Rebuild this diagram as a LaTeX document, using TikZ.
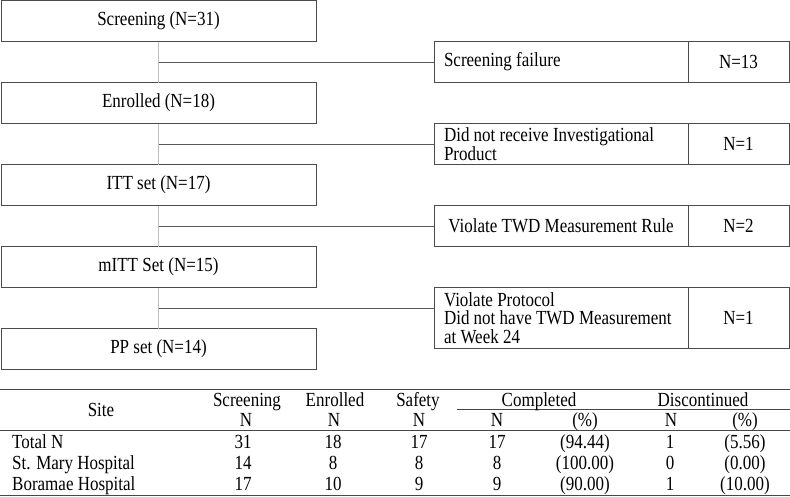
\documentclass[tikz,border=0pt]{standalone}
\usepackage{fontspec}
\setmainfont{Liberation Serif}[FakeStretch=0.85]
\usetikzlibrary{positioning,calc}
\definecolor{boxline}{RGB}{75,75,75}
\definecolor{trunkgray}{RGB}{190,190,190}
\definecolor{branchgray}{RGB}{90,90,90}
\definecolor{rulegray}{RGB}{70,70,70}
\tikzset{
  basebox/.style={rectangle,draw=boxline,line width=1pt,outer sep=0pt,fill=white,
    font=\fontsize{20}{18.5}\selectfont},
  flowbox/.style={basebox,minimum width=315pt,minimum height=41pt,align=center},
  reasonbox/.style={basebox,text width=240pt,inner xsep=7pt,inner ysep=1pt,minimum height=41pt,align=flush left},
  reasonmid/.style={basebox,minimum width=254pt,minimum height=41pt,align=center},
  countbox/.style={basebox,minimum width=101pt,minimum height=41pt,align=center},
  trunk/.style={draw=trunkgray,line width=1.6pt},
  branch/.style={draw=branchgray,line width=1pt},
  cell/.style={anchor=base,inner sep=0pt,font=\fontsize{20}{17.5}\selectfont},
  sitecell/.style={cell,anchor=base west},
  tabrule/.style={draw=rulegray,line width=1pt}
}

\begin{document}
\begin{tikzpicture}[x=1pt,y=-1pt,node distance=41pt]
  \useasboundingbox (0,0) rectangle (790,496);

  %% Flow of subjects
  \node[flowbox,anchor=north west] (screen) at (1,0.5) {Screening (N=31)};
  \node[flowbox,below=of screen] (enrol) {Enrolled (N=18)};
  \node[flowbox,below=of enrol] (itt) {ITT set (N=17)};
  \node[flowbox,below=of itt] (mitt) {mITT Set (N=15)};
  \node[flowbox,below=of mitt] (pp) {PP set (N=14)};

  \foreach \a/\b in {screen/enrol,enrol/itt,itt/mitt,mitt/pp}
    \draw[trunk] (\a) -- (\b);

  %% Reasons for exclusion
  \node[reasonbox,anchor=north west,xshift=118pt] (fail) at (screen.south east) {\hspace{3pt}Screening failure};
  \node[countbox,right=0pt of fail] (failn) {N=13};

  \node[reasonbox,anchor=north west,xshift=118pt] (noip) at (enrol.south east)
    {\hspace{3pt}Did not receive Investigational\\\hspace{3pt}Product};
  \node[countbox,right=0pt of noip] (noipn) {N=1};

  \node[reasonmid,anchor=north west,xshift=118pt] (twd) at (itt.south east)
    {Violate TWD Measurement Rule};
  \node[countbox,right=0pt of twd] (twdn) {N=2};

  \node[reasonbox,minimum height=61pt,anchor=north west,xshift=118pt] (prot) at (mitt.south east)
    {\hspace{3pt}Violate Protocol\\\hspace{3pt}Did not have TWD Measurement\\\hspace{3pt}at Week 24};
  \node[countbox,minimum height=61pt,right=0pt of prot] (protn) {N=1};

  %% Branch lines
  \coordinate (b1) at ($(screen.south)!0.5!(enrol.north)$);
  \coordinate (b2) at ($(enrol.south)!0.5!(itt.north)$);
  \coordinate (b3) at ($(itt.south)!0.5!(mitt.north)$);
  \coordinate (b4) at ($(mitt.south)!0.5!(pp.north)$);
  \draw[branch] (b1) -- (b1 -| fail.west);
  \draw[branch] (b2) -- (b2 -| noip.west);
  \draw[branch] (b3) -- (b3 -| twd.west);
  \draw[branch] (b4) -- (b4 -| prot.west);

  %% Disposition table
  \draw[tabrule] (0,389) -- (790,389);
  \draw[tabrule] (457,409) -- (790,409);
  \draw[tabrule] (0,430) -- (790,430);
  \draw[tabrule] (0,495) -- (790,495);

  \node[cell] (hsite) at (101,416.7) {Site};
  \node[cell] (hscr) at (247,406.7) {Screening};
  \node[cell] (hscrn) at (246,426.7) {N};
  \node[cell] (henr) at (335,406.7) {Enrolled};
  \node[cell] (henrn) at (334,426.7) {N};
  \node[cell] (hsaf) at (418,406.7) {Safety};
  \node[cell] (hsafn) at (419,426.7) {N};
  \node[cell] (hcom) at (539,406.7) {Completed};
  \node[cell] (hcomn) at (497,426.7) {N};
  \node[cell] (hcomp) at (585,426.7) {(\%)};
  \node[cell] (hdis) at (703,406.7) {Discontinued};
  \node[cell] (hdisn) at (671,426.7) {N};
  \node[cell] (hdisp) at (745,426.7) {(\%)};

  \foreach \row/\ypos/\site/\nscr/\nenr/\nsaf/\ncom/\pcom/\ndis/\pdis in {
      tot/448/Total N/31/18/17/17/94.44/1/5.56,
      stm/469/St. Mary Hospital/14/8/8/8/100.00/0/0.00,
      bor/490/Boramae Hospital/17/10/9/9/90.00/1/10.00}{
    \node[sitecell] (\row-site) at (12,\ypos) {\site};
    \node[cell] (\row-scr) at (243,\ypos) {\nscr};
    \node[cell] (\row-enr) at (333,\ypos) {\nenr};
    \node[cell] (\row-saf) at (419,\ypos) {\nsaf};
    \node[cell] (\row-cn) at (497,\ypos) {\ncom};
    \node[cell] (\row-cp) at (585,\ypos) {(\pcom)};
    \node[cell] (\row-dn) at (670,\ypos) {\ndis};
    \node[cell] (\row-dp) at (745,\ypos) {(\pdis)};
  }
\end{tikzpicture}
\end{document}
